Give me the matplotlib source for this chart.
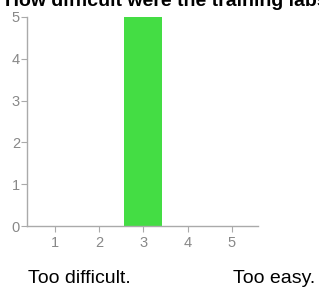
import matplotlib
matplotlib.use("Agg")
from matplotlib import pyplot as plt

plt.rcParams['font.family'] = ['Liberation Sans', 'DejaVu Sans']

# data
ratings = [1, 2, 3, 4, 5]
counts = [0, 0, 5, 0, 0]
yticks = [0, 1, 2, 3, 4, 5]
title = "How difficult were the training labs?"
low_label = "Too difficult."
high_label = "Too easy."

W, H = 319, 289
fig = plt.figure(figsize=(W / 100, H / 100), dpi=100)
ax = fig.add_axes([27 / W, 1 - 226 / H, (258 - 27) / W, (226 - 17) / H])

ax.bar(ratings, counts, width=0.86, color='#44dd44', linewidth=0)
ax.set_xlim(0.37, 5.59)
ax.set_ylim(0, 5)
ax.set_xticks(ratings)
ax.set_yticks(yticks)

for s in ['top', 'right']:
    ax.spines[s].set_visible(False)
for s in ['left', 'bottom']:
    ax.spines[s].set_color('#aaaaaa')
    ax.spines[s].set_linewidth(1)
ax.tick_params(axis='both', colors='#aaaaaa', labelcolor='#888888', labelsize=10.5, length=4)
ax.tick_params(axis='y', pad=1)
ax.tick_params(axis='x', pad=3)

# title is cut off at the top edge, as in the original screenshot
fig.text(5 / W, 1 - 6 / H, title, fontsize=14, fontweight='bold', va='baseline', ha='left')
fig.text(28 / W, 1 - 283 / H, low_label, fontsize=14, va='baseline', ha='left')
fig.text(233 / W, 1 - 283 / H, high_label, fontsize=14, va='baseline', ha='left')

fig.savefig('out.png', dpi=100)
